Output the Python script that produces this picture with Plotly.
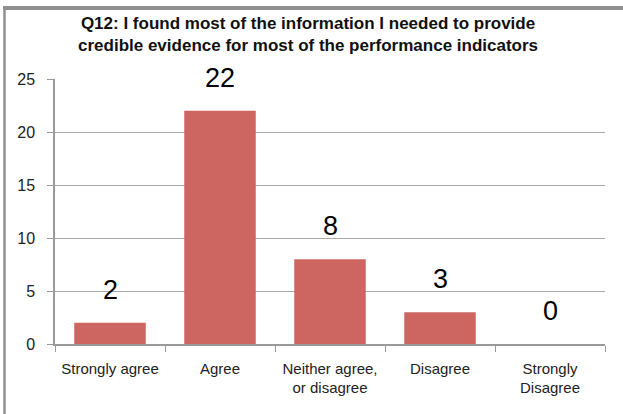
import plotly.graph_objects as go

categories = ["Strongly agree", "Agree", "Neither agree,<br>or disagree", "Disagree", "Strongly<br>Disagree"]
values = [2, 22, 8, 3, 0]
y_ticks = [0, 5, 10, 15, 20, 25]
title_text = "Q12: I found most of the information I needed to provide<br>credible evidence for most of the performance indicators"

W, H = 623, 414
ml, mr = 55, W - 605
mt, mb = 79, H - 344
pw = W - ml - mr
ph = H - mt - mb
FONT = "Liberation Sans, Arial, sans-serif"


def px_x(x):
    return (x - ml) / pw


def px_y(y):
    return (H - mb - y) / ph


fig = go.Figure()
fig.add_trace(go.Bar(
    x=categories, y=values,
    marker=dict(color="#CD6660", line=dict(width=0)),
    width=0.65,
))

for c, v in zip(categories, values):
    fig.add_annotation(x=c, y=v, text=str(v), showarrow=False,
                       yanchor="bottom", yshift=16,
                       font=dict(family=FONT, size=27, color="black"))

# chart title
fig.add_annotation(xref="paper", yref="paper", x=px_x(308), y=px_y(12),
                   xanchor="center", yanchor="top", showarrow=False,
                   text="<b>" + title_text + "</b>", align="center",
                   font=dict(family=FONT, size=17, color="#111111"))

# outer chart border: only the top and left edges fall inside the picture
fig.add_shape(type="line", xref="paper", yref="paper",
              x0=px_x(3.5), x1=px_x(W), y0=px_y(8.5), y1=px_y(8.5),
              line=dict(color="#8f8f8f", width=3), layer="above")
fig.add_shape(type="line", xref="paper", yref="paper",
              x0=px_x(4.5), x1=px_x(4.5), y0=px_y(7), y1=px_y(H),
              line=dict(color="#8f8f8f", width=2.5), layer="above")

fig.update_layout(
    width=W, height=H,
    margin=dict(l=ml, r=mr, t=mt, b=mb),
    paper_bgcolor="white", plot_bgcolor="white",
    showlegend=False,
    bargap=0.35,
    font=dict(family=FONT, size=14, color="#222222"),
    xaxis=dict(showline=True, linecolor="#9a9a9a", linewidth=1.5,
               ticks="outside", tickson="boundaries", ticklen=6, tickcolor="#9a9a9a",
               ticklabelstandoff=10,
               showgrid=False, tickfont=dict(family=FONT, size=15, color="#222222")),
    yaxis=dict(range=[0, 25], tickvals=y_ticks, showline=True, linecolor="#9a9a9a", linewidth=1.5,
               ticks="outside", ticklen=6, tickcolor="#9a9a9a",
               ticklabelstandoff=9,
               showgrid=True, gridcolor="#a8a8a8", gridwidth=1.2, zeroline=False,
               tickfont=dict(family=FONT, size=16, color="#222222")),
)

fig.write_html(
    "out.html",
    config={"displayModeBar": False},
    post_script=(
        "document.body.style.margin='0';"
        "document.body.style.overflow='hidden';"
        "document.documentElement.style.overflow='hidden';"
        "window.scrollTo(0,0);"
        "var b=document.createElement('div');"
        "b.style.cssText='position:fixed;left:3px;top:6px;width:700px;height:0;"
        "border-top:3px solid #8f8f8f;pointer-events:none;z-index:1000;';"
        "document.body.appendChild(b);"
    ),
)
